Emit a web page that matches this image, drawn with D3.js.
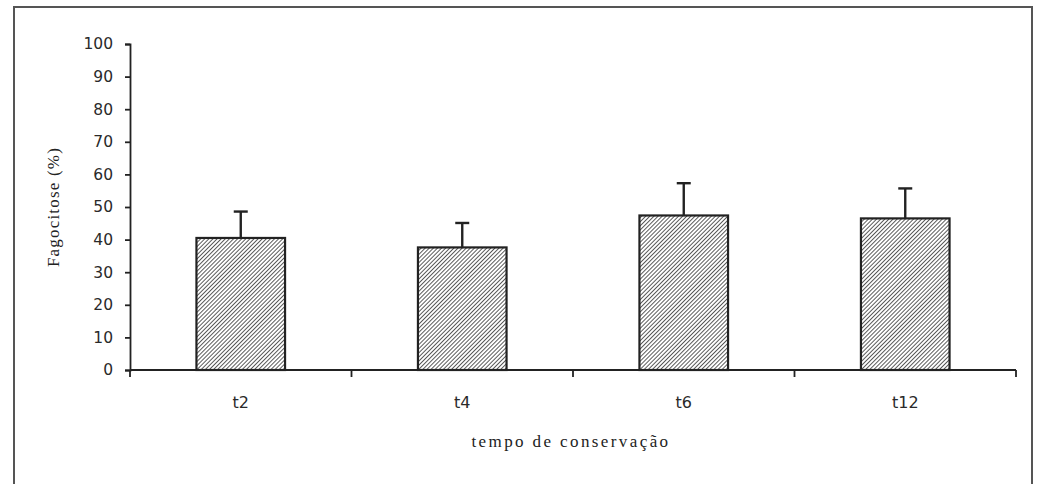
<!DOCTYPE html>
<html>
<head>
<meta charset="utf-8">
<script src="https://cdn.jsdelivr.net/npm/d3@7"></script>
<style>
  html, body { margin: 0; padding: 0; background: #fff; }
  svg { display: block; }
</style>
</head>
<body>
<svg id="chart" width="1040" height="484"></svg>
<script>
// Phagocytosis (%) by conservation time, with upper error bars
const categories = ["t2", "t4", "t6", "t12"];
const means = [40.5, 37.6, 47.4, 46.5];
const errors = [8.1, 7.5, 9.9, 9.2];
const yTicks = [0, 10, 20, 30, 40, 50, 60, 70, 80, 90, 100];

const svg = d3.select("#chart");
const ink = "#222";

// outer frame (open at the bottom)
svg.append("path")
  .attr("d", "M14,484 V7 H1032 V484")
  .attr("fill", "none")
  .attr("stroke", "#555")
  .attr("stroke-width", 2);

const margin = { left: 130, right: 1016, top: 44, bottom: 370 };

const x = d3.scaleBand()
  .domain(categories)
  .range([margin.left, margin.right])
  .paddingInner(0.6)
  .paddingOuter(0.3);

const y = d3.scaleLinear().domain([0, 100]).range([margin.bottom, margin.top]);

// diagonal hatch pattern
const defs = svg.append("defs");
const p = 2.9;
const pat = defs.append("pattern")
  .attr("id", "hatch")
  .attr("patternUnits", "userSpaceOnUse")
  .attr("width", p)
  .attr("height", p)
  .attr("patternTransform", "rotate(45)");
pat.append("rect").attr("width", p).attr("height", p).attr("fill", "#fff");
pat.append("line")
  .attr("x1", 0).attr("y1", 0).attr("x2", 0).attr("y2", p)
  .attr("stroke", "#333").attr("stroke-width", 1.6);

// bars
svg.append("g").selectAll("rect")
  .data(categories)
  .join("rect")
  .attr("x", d => x(d))
  .attr("y", (d, i) => y(means[i]))
  .attr("width", x.bandwidth())
  .attr("height", (d, i) => y(0) - y(means[i]))
  .attr("fill", "url(#hatch)")
  .attr("stroke", ink)
  .attr("stroke-width", 2.2);

// error bars
const eb = svg.append("g").attr("stroke", ink).attr("stroke-width", 2.4);
categories.forEach((c, i) => {
  const cx = x(c) + x.bandwidth() / 2;
  eb.append("line")
    .attr("x1", cx).attr("x2", cx)
    .attr("y1", y(means[i])).attr("y2", y(means[i] + errors[i]));
  eb.append("line")
    .attr("x1", cx - 7).attr("x2", cx + 7)
    .attr("y1", y(means[i] + errors[i])).attr("y2", y(means[i] + errors[i]));
});

// y axis
const yAxis = svg.append("g")
  .attr("transform", `translate(${margin.left},0)`)
  .call(d3.axisLeft(y).tickValues(yTicks).tickSize(5).tickPadding(12));
yAxis.select(".domain").attr("stroke", ink).attr("stroke-width", 1.8);
yAxis.selectAll(".tick line").attr("stroke", ink).attr("stroke-width", 1.8);
yAxis.selectAll(".tick text")
  .attr("font-family", "'DejaVu Sans', sans-serif")
  .attr("font-size", 15.5)
  .attr("fill", "#2a2a2a");

// x axis with ticks at category boundaries
const xg = svg.append("g").attr("transform", `translate(0,${margin.bottom})`);
xg.append("line")
  .attr("x1", margin.left).attr("x2", margin.right)
  .attr("stroke", ink).attr("stroke-width", 1.8);
const step = (margin.right - margin.left) / categories.length;
d3.range(categories.length + 1).forEach(k => {
  xg.append("line")
    .attr("x1", margin.left + k * step).attr("x2", margin.left + k * step)
    .attr("y1", 0).attr("y2", 7)
    .attr("stroke", ink).attr("stroke-width", 1.8);
});
xg.selectAll("text.cat")
  .data(categories)
  .join("text")
  .attr("class", "cat")
  .attr("x", d => x(d) + x.bandwidth() / 2)
  .attr("y", 38)
  .attr("text-anchor", "middle")
  .attr("font-family", "'DejaVu Sans', sans-serif")
  .attr("font-size", 16)
  .attr("fill", "#2a2a2a")
  .text(d => d);

// axis titles
svg.append("text")
  .attr("x", 571)
  .attr("y", 447)
  .attr("text-anchor", "middle")
  .attr("font-family", "'Liberation Serif', serif")
  .attr("font-size", 17)
  .attr("letter-spacing", 2.4)
  .attr("fill", "#222")
  .text("tempo de conservação");

svg.append("text")
  .attr("transform", "translate(59,207) rotate(-90)")
  .attr("text-anchor", "middle")
  .attr("font-family", "'Liberation Serif', serif")
  .attr("font-size", 17)
  .attr("letter-spacing", 1.2)
  .attr("fill", "#222")
  .text("Fagocitose (%)");
</script>
</body>
</html>
